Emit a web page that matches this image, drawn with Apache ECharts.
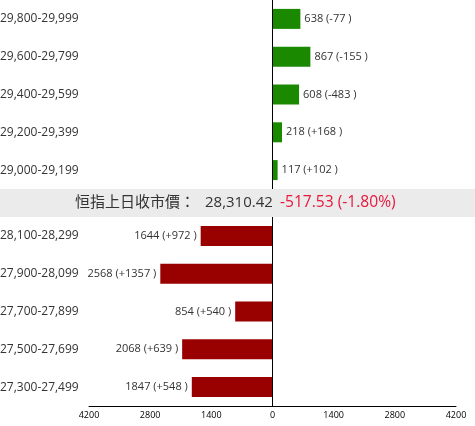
<!DOCTYPE html>
<html><head><meta charset="utf-8">
<script src="https://cdn.jsdelivr.net/npm/echarts@6/dist/echarts.min.js"></script>
<style>html,body{margin:0;padding:0;background:#fff}#c{width:475px;height:426px}</style>
</head><body><div id="c"></div>
<script>
const topCats = ['29,800-29,999','29,600-29,799','29,400-29,599','29,200-29,399','29,000-29,199'];
const topVals = [638, 867, 608, 218, 117];
const topChg = ['-77','-155','-483','+168','+102'];
const botCats = ['28,100-28,299','27,900-28,099','27,700-27,899','27,500-27,699','27,300-27,499'];
const botVals = [1644, 2568, 854, 2068, 1847];
const botChg = ['+972','+1357','+540','+639','+548'];
const xMin = -4200, xMax = 4200, xStep = 1400;
const closeLabel = '恒指上日收市價：';
const closeValue = '28,310.42';
const closeChange = '-517.53 (-1.80%)';

const FONT = '"Open Sans", "Noto Sans CJK TC", sans-serif';
const chart = echarts.init(document.getElementById('c'), null, {renderer:'canvas'});
const vline = {silent:true, symbol:'none', label:{show:false}, lineStyle:{color:'#000', width:1, type:'solid'}, data:[{xAxis:0}], animation:false};
const catAxis = (i, cats) => ({type:'category', gridIndex:i, data:cats, inverse:true,
  axisLine:{show:false}, axisTick:{show:false},
  axisLabel:{align:'left', margin:89, fontSize:12, color:'#333', fontFamily:FONT}});
chart.setOption({
  animation:false,
  grid:[{left:89, right:19, top:0, height:189, outerBoundsMode:'none', containLabel:false},
        {left:89, right:19, top:217, height:189, outerBoundsMode:'none', containLabel:false}],
  xAxis:[
    {type:'value', gridIndex:0, min:xMin, max:xMax, interval:xStep, show:false},
    {type:'value', gridIndex:1, min:xMin, max:xMax, interval:xStep,
     axisLine:{show:true, onZero:false, lineStyle:{color:'#000', width:1}}, axisTick:{show:false}, splitLine:{show:false},
     axisLabel:{fontSize:9, color:'#000', margin:5, fontFamily:FONT, formatter:v=>String(Math.abs(v))}}
  ],
  yAxis:[catAxis(0, topCats), catAxis(1, botCats)],
  series:[
    {type:'bar', xAxisIndex:0, yAxisIndex:0, data:topVals, barWidth:20, itemStyle:{color:'#1a8900'},
     label:{show:true, position:'right', distance:4, fontSize:11, color:'#333', fontFamily:FONT,
       formatter:p=>topVals[p.dataIndex]+' ('+topChg[p.dataIndex]+' )'}, markLine:vline},
    {type:'bar', xAxisIndex:1, yAxisIndex:1, data:botVals.map(v=>-v), barWidth:20, itemStyle:{color:'#990000'},
     label:{show:true, position:'left', distance:4, fontSize:11, color:'#333', fontFamily:FONT,
       formatter:p=>botVals[p.dataIndex]+' ('+botChg[p.dataIndex]+' )'}, markLine:vline}
  ],
  graphic:[
    {type:'rect', left:0, top:189, shape:{width:475, height:28}, style:{fill:'#ebebeb'}, z:10},
    {type:'text', x:75, y:203, z:11, style:{text:closeLabel, align:'left', verticalAlign:'middle',
      fontSize:15, fill:'#333', fontFamily:FONT}},
    {type:'text', x:205, y:203, z:11, style:{text:closeValue, align:'left', verticalAlign:'middle',
      fontSize:15, fill:'#333', fontFamily:FONT}},
    {type:'text', x:280, y:203, z:11, style:{text:closeChange, align:'left', verticalAlign:'middle',
      fontSize:15.6, fill:'#e8173c', fontFamily:FONT}}
  ]
});
</script></body></html>
